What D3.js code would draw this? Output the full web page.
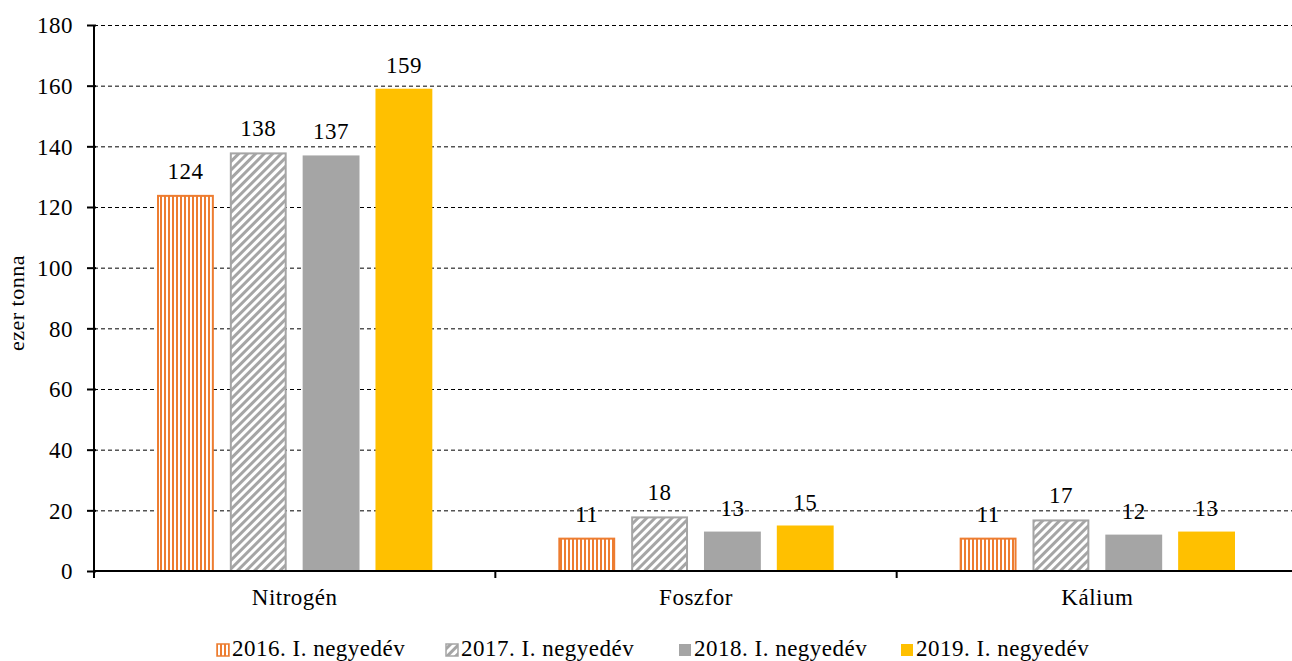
<!DOCTYPE html>
<html><head><meta charset="utf-8">
<script src="https://cdn.jsdelivr.net/npm/d3@7"></script>
<style>body{margin:0;background:#fff}svg{display:block}text{font-family:"Liberation Serif","Times New Roman",serif;letter-spacing:0.5px}</style>
</head><body><svg id="c" width="1292" height="661"></svg>
<script>
const categories = ["Nitrogén", "Foszfor", "Kálium"];
const seriesNames = ["2016. I. negyedév", "2017. I. negyedév", "2018. I. negyedév", "2019. I. negyedév"];
const v2016 = [124, 11, 11];
const v2017 = [138, 18, 17];
const v2018 = [137, 13, 12];
const v2019 = [159, 15, 13];
const yTicks = [0, 20, 40, 60, 80, 100, 120, 140, 160, 180];
const series = [v2016, v2017, v2018, v2019];

const FS = 23;
const svg = d3.select("#c");
const m = {l: 94, t: 25, r: -6, b: 90};
const W = 1292, H = 661;
const x0 = d3.scaleBand().domain(categories).range([m.l, W - m.r]).paddingInner(0).paddingOuter(0);
const x1 = d3.scaleBand().domain(d3.range(4)).range([63, x0.bandwidth() - 63]).paddingInner(16/73).paddingOuter(0);
const y = d3.scaleLinear().domain([0, 180]).range([H - m.b, m.t]);

const defs = svg.append("defs");
const p1 = defs.append("pattern").attr("id","vstripe").attr("patternUnits","userSpaceOnUse").attr("width",4).attr("height",4);
p1.append("rect").attr("width",4).attr("height",4).attr("fill","#fff");
p1.append("rect").attr("width",2).attr("height",4).attr("fill","#ED7D31");
const p2 = defs.append("pattern").attr("id","diag").attr("patternUnits","userSpaceOnUse").attr("width",6).attr("height",6).attr("patternTransform","rotate(45)");
p2.append("rect").attr("width",6).attr("height",6).attr("fill","#fff");
p2.append("rect").attr("width",3).attr("height",6).attr("fill","#A5A5A5");

const fills = ["url(#vstripe)", "url(#diag)", "#A5A5A5", "#FFC000"];
const strokes = ["#ED7D31", "#A5A5A5", "none", "none"];

// gridlines
svg.append("g").selectAll("line").data(yTicks.filter(d => d > 0)).join("line")
  .attr("x1", m.l).attr("x2", W).attr("y1", d => y(d) + 0.5).attr("y2", d => y(d) + 0.5)
  .attr("stroke", "#000").attr("stroke-width", 1).attr("stroke-dasharray", "4,3");

// bars
const g = svg.append("g");
series.forEach((vals, si) => {
  const o = strokes[si] !== "none" ? 1 : 0;
  g.append("g").selectAll("rect").data(vals).join("rect")
    .attr("x", (d, i) => x0(categories[i]) + x1(si) + o)
    .attr("y", d => y(d) + o)
    .attr("width", x1.bandwidth() - 2 * o)
    .attr("height", d => y(0) - y(d) - o)
    .attr("fill", fills[si]).attr("stroke", strokes[si]).attr("stroke-width", 2);
  g.append("g").selectAll("text").data(vals).join("text")
    .attr("x", (d, i) => x0(categories[i]) + x1(si) + x1.bandwidth() / 2)
    .attr("y", d => y(d) - 16)
    .attr("text-anchor", "middle").attr("font-size", FS).attr("fill", "#000")
    .text(d => d3.format("d")(d));
});

// y axis
const ya = svg.append("g").attr("transform", `translate(${m.l},0)`)
  .call(d3.axisLeft(y).tickValues(yTicks).tickSize(7).tickPadding(14).tickFormat(d3.format("d")));
ya.select(".domain").attr("stroke", "#000").attr("stroke-width", 2).attr("d", `M0,${y(180)}V${y(0)}`);
ya.selectAll(".tick line").attr("stroke", "#000").attr("stroke-width", 2).attr("x2", -7).attr("x1", 2);
ya.selectAll(".tick text").attr("font-size", FS).attr("fill", "#000").attr("dy", "0.34em");

// x axis
svg.append("line").attr("x1", m.l).attr("x2", W).attr("y1", y(0)).attr("y2", y(0)).attr("stroke", "#000").attr("stroke-width", 2);
const xa = svg.append("g").attr("transform", `translate(0,${y(0)})`);
xa.selectAll("line").data([categories[0], ...categories]).join("line")
  .attr("x1", (d, i) => i === 0 ? m.l : x0(d) + x0.bandwidth())
  .attr("x2", (d, i) => i === 0 ? m.l : x0(d) + x0.bandwidth())
  .attr("y1", 0).attr("y2", 7).attr("stroke", "#000").attr("stroke-width", 2);
xa.selectAll("text").data(categories).join("text")
  .attr("x", d => x0(d) + x0.bandwidth() / 2).attr("y", 34)
  .attr("text-anchor", "middle").attr("font-size", FS).attr("fill", "#000").text(d => d);

// y title
svg.append("text").attr("transform", `translate(24,${(y(0)+y(180))/2 + 5}) rotate(-90)`)
  .attr("text-anchor", "middle").attr("font-size", 22).text("ezer tonna");

// legend
const legX = [216, 445, 678, 900];
const lg = svg.append("g").attr("transform", "translate(0,643)");
seriesNames.forEach((n, i) => {
  lg.append("rect").attr("x", legX[i] + 1).attr("y", 1).attr("width", 12).attr("height", 12)
    .attr("fill", fills[i]).attr("stroke", strokes[i]).attr("stroke-width", 1.5);
  lg.append("text").attr("x", legX[i] + 16).attr("y", 13).attr("font-size", FS).text(n);
});
</script></body></html>
